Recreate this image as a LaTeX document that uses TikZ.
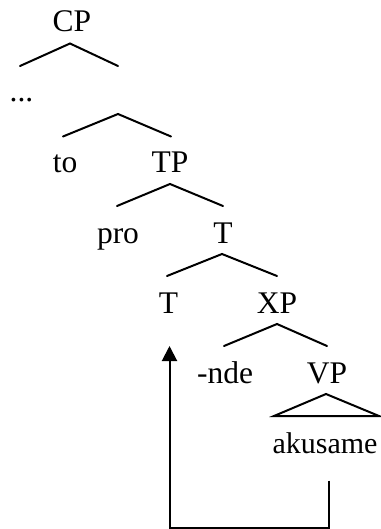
\documentclass[tikz,border=0pt]{standalone}
\usepackage{fontspec}
\setmainfont{Liberation Serif}
\usetikzlibrary{arrows.meta}
\tikzset{
  lbl/.style={anchor=base, inner sep=0pt, font=\fontsize{31.5}{38}\selectfont},
  branch/.style={line width=2pt, line cap=round},
  movearrow/.style={line width=2pt, -{Triangle[length=15pt,width=15pt]}}
}
\begin{document}
\begin{tikzpicture}[x=1pt,y=-1pt]
\useasboundingbox (0,0) rectangle (380,529);
% labels
\node[lbl] (CP) at (72,31.5) {CP};
\node[lbl] (dots) at (21.5,102) {...};
\node[lbl] (to) at (65,173) {to};
\node[lbl] (TP) at (170,173) {TP};
\node[lbl] (pro) at (118,243) {pro};
\node[lbl] (Tbar) at (223,243) {T};
\node[lbl] (T) at (168.5,313) {T};
\node[lbl] (XP) at (277,313) {XP};
\node[lbl] (nde) at (225,383) {-nde};
\node[lbl] (VP) at (327,383) {VP};
\node[lbl, font=\fontsize{30}{36}\selectfont] (aku) at (325,453) {akusame};
% branch points
\coordinate (a1) at (70,43.5);   \coordinate (l1) at (20,66);   \coordinate (r1) at (118,66);
\coordinate (a2) at (118,114);  \coordinate (l2) at (63,136.5); \coordinate (r2) at (171,136.5);
\coordinate (a3) at (170,184);  \coordinate (l3) at (117,206);  \coordinate (r3) at (223,206);
\coordinate (a4) at (222,254);  \coordinate (l4) at (167,276);  \coordinate (r4) at (277,276);
\coordinate (a5) at (277,324);  \coordinate (l5) at (224,346);  \coordinate (r5) at (327,346);
\coordinate (a6) at (326,394);  \coordinate (l6) at (274,416);  \coordinate (r6) at (379,416);
\draw[branch] (l1) -- (a1) -- (r1);
\draw[branch] (l2) -- (a2) -- (r2);
\draw[branch] (l3) -- (a3) -- (r3);
\draw[branch] (l4) -- (a4) -- (r4);
\draw[branch] (l5) -- (a5) -- (r5);
\draw[branch, line cap=butt] (a6) -- (l6) -- (r6) -- cycle;
% movement arrow
\coordinate (mvstart) at (329,480.5);
\coordinate (mvbr) at (329,527.5);
\coordinate (mvbl) at (169.5,527.5);
\coordinate (mvtip) at (169.5,346);
\draw[movearrow] (mvstart) -- (mvbr) -- (mvbl) -- (mvtip);
\end{tikzpicture}
\end{document}
